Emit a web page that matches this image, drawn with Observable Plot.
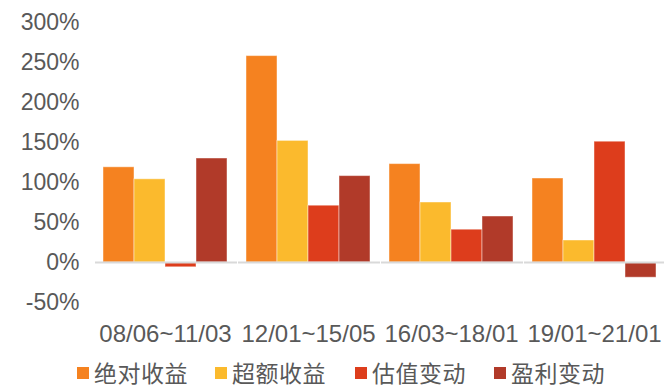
<!DOCTYPE html>
<html>
<head>
<meta charset="utf-8">
<script src="https://cdn.jsdelivr.net/npm/d3@7"></script>
<script src="https://cdn.jsdelivr.net/npm/@observablehq/plot@0.6"></script>
<style>
  html, body { margin: 0; padding: 0; background: #fff; overflow: hidden; }
  #chart { width: 664px; }
  .legend { position: relative; height: 35px;
    font-family: "Liberation Sans", "Noto Sans CJK SC", sans-serif; font-size: 23px; color: #595959; }
  .legend .item { display: flex; align-items: center; position: absolute; top: 6px; line-height: 1; }
  .legend .sw { width: 12px; height: 12px; margin-right: 5px; }
  .legend .tx { font-family: "Noto Sans CJK SC", sans-serif; letter-spacing: 0.5px; }
  .xlab text { font-size: 24px; }
</style>
</head>
<body>
<div id="chart"></div>
<script>
// Period groups and return decomposition (%)
const periods = ["08/06~11/03", "12/01~15/05", "16/03~18/01", "19/01~21/01"];
const seriesNames = ["绝对收益", "超额收益", "估值变动", "盈利变动"];
const seriesColors = ["#F58220", "#FBBA2D", "#DD3D1C", "#B13A29"];
const absoluteReturn = [119, 258, 123, 105];
const excessReturn = [104, 152, 75, 27.5];
const valuationChange = [-6, 71, 41, 151];
const earningsChange = [130, 108, 57.5, -19];
const yTicks = [-50, 0, 50, 100, 150, 200, 250, 300];

const seriesValues = [absoluteReturn, excessReturn, valuationChange, earningsChange];
const rows = [];
periods.forEach((p, i) => {
  seriesNames.forEach((s, j) => rows.push({period: p, series: s, value: seriesValues[j][i]}));
});

const font = `"Liberation Sans", Arial, sans-serif`;

const plot = Plot.plot({
  width: 664,
  height: 355,
  marginTop: 22,
  marginBottom: 53,
  marginLeft: 95,
  marginRight: 0,
  style: {fontFamily: font, fontSize: "23px", color: "#595959", background: "#fff"},
  fx: {domain: periods, paddingInner: 0.132, paddingOuter: 0.042, label: null},
  x: {domain: seriesNames, padding: 0, axis: null},
  y: {domain: [-50, 300], ticks: yTicks, tickFormat: d => d + "%", tickSize: 0, tickPadding: 24, label: null},
  color: {domain: seriesNames, range: seriesColors},
  marks: [
    Plot.axisFx({anchor: "bottom", tickSize: 0, tickPadding: 22, label: null, className: "xlab"}),
    Plot.barY(rows, {fx: "period", x: "series", y: "value", fill: "series",
      stroke: "#fff", strokeOpacity: 0.45, strokeWidth: 1}),
    Plot.ruleY([0], {stroke: "#d9d9d9", strokeWidth: 2, insetLeft: -8, insetRight: -10})
  ]
});
document.getElementById("chart").appendChild(plot);

// Legend below the plot
const legend = document.createElement("div");
legend.className = "legend";
const legendX = [77, 215, 355, 494];
seriesNames.forEach((s, i) => {
  const item = document.createElement("div");
  item.className = "item";
  item.style.left = legendX[i] + "px";
  const sw = document.createElement("span");
  sw.className = "sw";
  sw.style.background = seriesColors[i];
  const t = document.createElement("span");
  t.className = "tx";
  t.textContent = s;
  item.append(sw, t);
  legend.appendChild(item);
});
document.getElementById("chart").appendChild(legend);
</script>
</body>
</html>
